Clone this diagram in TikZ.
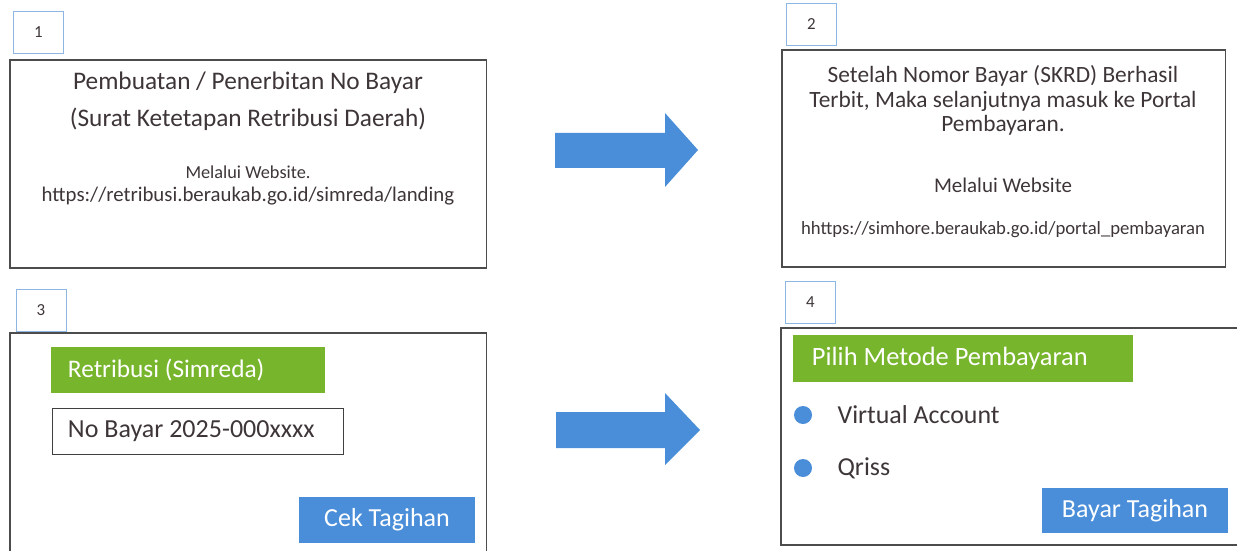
\documentclass[tikz,border=0pt]{standalone}
\usepackage{fontspec}
\setmainfont{Carlito}
\usetikzlibrary{positioning}
\definecolor{btnblue}{HTML}{4A8EDA}
\definecolor{btngreen}{HTML}{77B52C}
\definecolor{tagblue}{HTML}{8DB6E2}
\definecolor{ink}{HTML}{3D3537}
\newcommand{\fsz}[2]{\fontsize{#1pt}{#2pt}\selectfont}
\tikzset{
  panel/.style={draw=black!70, line width=0.8pt, inner sep=0pt},
  tagbox/.style={draw=tagblue, line width=0.6pt, minimum width=1.25cm, minimum height=1.05cm, inner sep=0pt, font=\fsz{12}{14}, text=ink},
  greenbar/.style={fill=btngreen, inner ysep=0pt, minimum height=1.15cm, align=flush left, text=white, font=\fsz{18}{20}},
  inputbox/.style={draw=black!75, line width=0.6pt, inner ysep=0pt, minimum height=1.15cm, align=flush left, text=ink, font=\fsz{18.5}{20}},
  bluebtn/.style={fill=btnblue, inner sep=0pt, text=white, font=\fsz{18.5}{20}},
  radio/.style={circle, fill=btnblue, minimum size=0.45cm, inner sep=0pt},
  blockarrow/.style={fill=btnblue}
}
\begin{document}
\begin{tikzpicture}[x=0.025cm, y=-0.025cm, text=ink]
  \useasboundingbox (0,0) rectangle (1237,551);
  \clip (0,0) rectangle (1237,551);
  % step 1
  \node[tagbox] (tag1) at (38.5,32.5) {1};
  \node[panel, minimum width=11.9cm, minimum height=5.2cm] (step1) at (248,164) {};
  \node[align=center, font=\fsz{18}{26.2}] (title1) at (248,101.5) {Pembuatan / Penerbitan No Bayar\\(Surat Ketetapan Retribusi Daerah)};
  \node[font=\fsz{13}{15}] (web1) at (248,172) {Melalui Website.};
  \node[font=\fsz{14.8}{16}] (url1) at (248,196) {https://retribusi.beraukab.go.id/simreda/landing};
  % step 2
  \node[tagbox] (tag2) at (811.5,24) {2};
  \node[panel, minimum width=11.075cm, minimum height=5.425cm] (step2) at (1003.5,158.5) {};
  \node[align=center, font=\fsz{16.6}{17.6}] (title2) at (1003,100.5) {Setelah Nomor Bayar (SKRD) Berhasil\\Terbit, Maka selanjutnya masuk ke Portal\\Pembayaran.};
  \node[font=\fsz{14.9}{16}] (web2) at (1003,185) {Melalui Website};
  \node[font=\fsz{13.3}{15}] (url2) at (1003,230) {hhttps://simhore.beraukab.go.id/portal\_pembayaran};
  % step 3
  \node[tagbox] (tag3) at (41,310) {3};
  \node[panel, minimum width=11.9cm, minimum height=6cm] (step3) at (248,453) {};
  \node[greenbar, inner xsep=0.425cm, text width=6cm] (simreda) at (188,370) {Retribusi (Simreda)};
  \node[inputbox, inner xsep=0.4cm, text width=6.475cm] (nobayar) at (197.5,431) {No Bayar 2025-000xxxx};
  \node[bluebtn, minimum width=4.4cm, minimum height=1.15cm] (cek) at (387,520) {Cek Tagihan};
  % step 4
  \node[tagbox] (tag4) at (810.5,302.5) {4};
  \node[panel, minimum width=11.4cm, minimum height=5.425cm] (step4) at (1009,436.5) {};
  \node[greenbar, inner xsep=0.475cm, text width=7.55cm, minimum height=1.175cm, font=\fsz{18.8}{20}] (metode) at (963,358.5) {Pilih Metode Pembayaran};
  \node[radio] (va) at (803,415) {};
  \node[radio] (qr) at (803,468) {};
  \node[inner sep=0pt, font=\fsz{18.4}{20}, right=0.625cm of va] (valabel) {Virtual Account};
  \node[inner sep=0pt, font=\fsz{18.4}{20}, right=0.625cm of qr] (qrlabel) {Qriss};
  \node[bluebtn, minimum width=4.65cm, minimum height=1.125cm] (bayar) at (1135,510.5) {Bayar Tagihan};
  % arrows between steps
  \fill[blockarrow] (555,133) -- (665,133) -- (665,113) -- (698,150) -- (665,187) -- (665,168) -- (555,168) -- cycle;
  \fill[blockarrow] (556,412) -- (665,412) -- (665,393) -- (700,430) -- (665,465) -- (665,448) -- (556,448) -- cycle;
\end{tikzpicture}
\end{document}
